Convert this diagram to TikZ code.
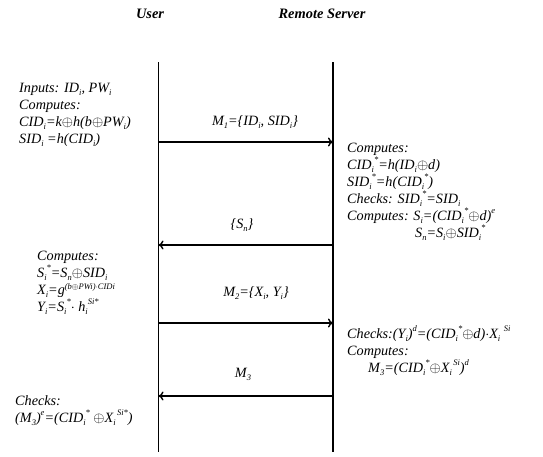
\documentclass[tikz,border=0pt]{standalone}
\usepackage{fontspec}
\setmainfont{Liberation Serif}
\usetikzlibrary{arrows.meta}
% sub/superscript helpers for the protocol formulas
\newcommand\scr[1]{{\fontsize{8.5}{8.5}\selectfont #1}}
\newcommand\sbs[1]{\smash{\raisebox{-3pt}{\scr{#1}}}}
\newcommand\sps[1]{\smash{\raisebox{6.6pt}{\scr{#1}}}}
\newcommand\spl[1]{\smash{\raisebox{4.4pt}{\scr{#1}}}}
\newcommand\sbp[2]{\sbs{#1}\sps{#2}}
\newcommand\xo{\ensuremath{\oplus}}
\tikzset{
  head/.style={font=\fontsize{14.4}{17}\selectfont\bfseries\itshape, inner sep=0pt},
  txt/.style={font=\fontsize{14.2}{17}\selectfont\itshape, align=left, inner sep=0pt, anchor=base west},
  lbl/.style={font=\fontsize{14.2}{17}\selectfont\itshape, inner sep=0pt},
  life/.style={line width=1.4pt},
  msg/.style={line width=1.4pt, -{To[length=5pt,width=9pt]}},
}
\begin{document}
\begin{tikzpicture}[x=1pt,y=-1pt]
\useasboundingbox (0,0) rectangle (543,456);

% participants
\node[head] (user) at (150,14) {User};
\node[head] (server) at (322,14) {Remote Server};

% lifelines
\coordinate (utop) at (158.5,62);
\coordinate (ubot) at (158.5,452);
\coordinate (stop) at (333,62);
\coordinate (sbot) at (333,452);
\draw[life] (utop) -- (ubot);
\draw[life] (stop) -- (sbot);

% message endpoints on the lifelines
\coordinate (m1u) at (158.5,142);
\coordinate (m1s) at (333,142);
\coordinate (snu) at (158.5,245);
\coordinate (sns) at (333,245);
\coordinate (m2u) at (158.5,323);
\coordinate (m2s) at (333,323);
\coordinate (m3u) at (158.5,396);
\coordinate (m3s) at (333,396);

\draw[msg] (m1u) -- (m1s);
\draw[msg] (sns) -- (snu);
\draw[msg] (m2u) -- (m2s);
\draw[msg] (m3s) -- (m3u);

% message labels
\node[lbl] (l1) at (255,122) {M\sbs{1}=\{ID\sbs{i}, SID\sbs{i}\}};
\node[lbl] (l2) at (242,225) {\{S\sbs{n}\}};
\node[lbl] (l3) at (256,293) {M\sbs{2}=\{X\sbs{i}, Y\sbs{i}\}};
\node[lbl] (l4) at (243,373) {M\sbs{3}};

% the base anchor of a multi-line node is the baseline of its last line

% user side: registration inputs
\node[txt] (u1) at (19,143) {Inputs: ID\sbs{i}, PW\sbs{i}\\
Computes:\\
CID\sbs{i}=k\xo h(b\xo PW\sbs{i})\\
SID\sbs{i} =h(CID\sbs{i})};

% server side: verification of M1
\node[txt] (s1) at (347,237) {Computes:\\
CID\sbp{i}{*}=h(ID\sbs{i}\xo d)\\
SID\sbp{i}{*}=h(CID\sbp{i}{*})\\
Checks: SID\sbp{i}{*}=SID\sbs{i}\\
Computes: S\sbs{i}=(CID\sbp{i}{*}\xo d)\sps{e}\\
\hspace*{68pt}S\sbs{n}=S\sbs{i}\xo SID\sbp{i}{*}};

% user side: building M2
\node[txt] (u2) at (37,311) {Computes:\\
S\sbp{i}{*}=S\sbs{n}\xo SID\sbs{i}\\
X\sbs{i}=g\spl{(b\xo PWi)$\cdot$CIDi}\\
Y\sbs{i}=S\sbp{i}{*}$\cdot$ h\sbp{i}{Si*}};

% server side: verification of M2
\node[txt] (s2) at (347,372) {Checks:(Y\sbs{i})\sps{d}=(CID\sbp{i}{*}\xo d)$\cdot$X\sbs{i} \sps{Si}\\
Computes:\\
\hspace*{21pt}M\sbs{3}=(CID\sbp{i}{*}\xo X\sbp{i}{\,Si})\sps{d}};

% user side: final check
\node[txt] (u3) at (15,422) {Checks:\\
(M\sbs{3})\sps{e}=(CID\sbp{i}{*} \xo X\sbp{i}{\,Si*})};
\end{tikzpicture}
\end{document}
